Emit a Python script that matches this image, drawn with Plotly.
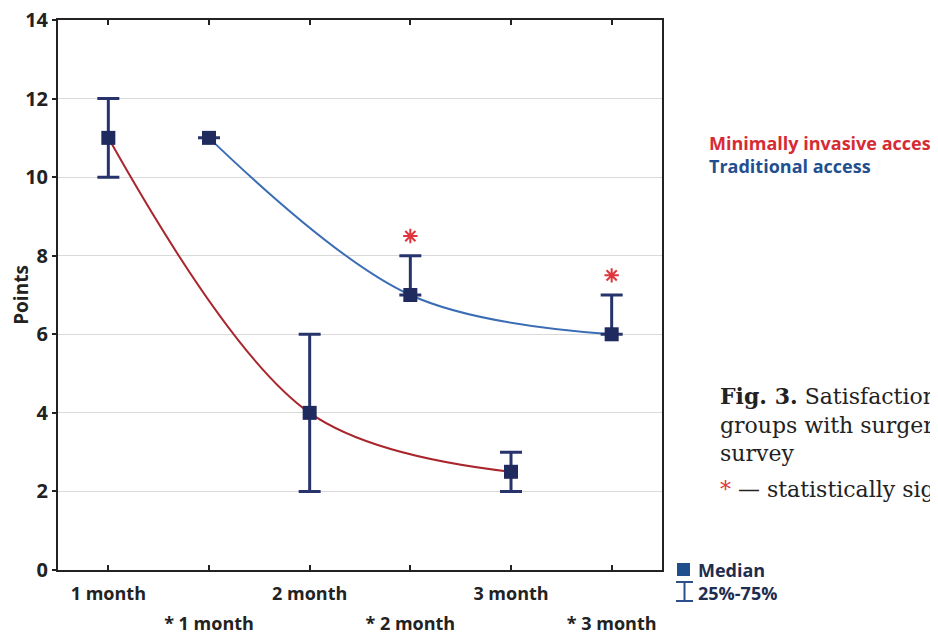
import plotly.graph_objects as go

# ---- data ----
categories = ["1 month", "* 1 month", "2 month", "* 2 month", "3 month", "* 3 month"]
row1_labels = ["1 month", "", "2 month", "", "3 month", ""]
row2_labels = ["* 1 month", "* 2 month", "* 3 month"]

mi_x = [0, 2, 4]            # Minimally invasive access positions (category index)
mi_median = [11, 4, 2.5]
mi_q1 = [10, 2, 2]
mi_q3 = [12, 6, 3]

tr_x = [1, 3, 5]            # Traditional access positions
tr_median = [11, 7, 6]
tr_q1 = [11, 7, 6]
tr_q3 = [11, 8, 7]

sig_x = [3, 5]
sig_y = [8.5, 7.5]

y_ticks = [0, 2, 4, 6, 8, 10, 12, 14]

# ---- styles ----
RED_LINE = "#a8262c"
BLUE_LINE = "#3b6db5"
NAVY = "#1f2a5e"
ERR = "#27346b"
SIG = "#e0353d"
FONT = "Open Sans"

fig = go.Figure()

fig.add_trace(go.Scatter(x=mi_x, y=mi_median, mode="lines",
                         line=dict(color=RED_LINE, width=2, shape="spline", smoothing=1.0),
                         hoverinfo="skip", showlegend=False))
fig.add_trace(go.Scatter(x=tr_x, y=tr_median, mode="lines",
                         line=dict(color=BLUE_LINE, width=2, shape="spline", smoothing=1.0),
                         hoverinfo="skip", showlegend=False))

for xs, med, q1, q3 in [(mi_x, mi_median, mi_q1, mi_q3), (tr_x, tr_median, tr_q1, tr_q3)]:
    fig.add_trace(go.Scatter(
        x=xs, y=med, mode="markers",
        marker=dict(symbol="square", size=14, color=NAVY, line=dict(width=0)),
        error_y=dict(type="data", symmetric=False,
                     array=[b - m for b, m in zip(q3, med)],
                     arrayminus=[m - a for a, m in zip(q1, med)],
                     color=ERR, thickness=3, width=11),
        showlegend=False))

fig.add_trace(go.Scatter(x=sig_x, y=sig_y, mode="markers", xaxis="x2", yaxis="y",
                         marker=dict(symbol="asterisk-open", size=12, color=SIG,
                                     line=dict(color=SIG, width=2)),
                         showlegend=False, hoverinfo="skip"))

axis_font = dict(family=FONT, size=18, color="#222222")
yaxis_font = dict(family=FONT, size=20, color="#222222")

# the page body adds an 8px margin, so the figure is sized to fit the window
fig.update_layout(
    width=930, height=626,
    margin=dict(l=50, r=276, t=12, b=64, autoexpand=False),
    paper_bgcolor="white", plot_bgcolor="white",
    font=dict(family=FONT, color="#222222"),
    xaxis=dict(range=[-0.5, 5.5], tickmode="array", tickvals=list(range(len(categories))),
               ticktext=["<b>%s</b>" % t if t else "" for t in row1_labels],
               ticks="inside", ticklen=5, tickwidth=1.5, tickcolor="#222",
               showline=True, linecolor="#222", linewidth=2, mirror="ticks",
               showgrid=False, zeroline=False, tickfont=axis_font,
               ticklabelstandoff=6),
    xaxis2=dict(range=[-0.5, 5.5], overlaying="x", side="bottom", tickmode="array",
                tickvals=[1, 3, 5], ticktext=["<b>%s</b>" % t for t in row2_labels],
                ticks="", showline=False, showgrid=False, zeroline=False,
                tickfont=axis_font, ticklabelstandoff=41),
    yaxis=dict(range=[0, 14], tickmode="array", tickvals=y_ticks,
               ticktext=["<b>%d</b>" % v for v in y_ticks],
               ticks="outside", ticklen=4, tickwidth=1.5, tickcolor="#222",
               showline=True, linecolor="#222", linewidth=2, mirror=True,
               showgrid=True, gridcolor="#d9d9d9", gridwidth=1, zeroline=False,
               tickfont=yaxis_font, ticklabeloverflow="allow",
               title=dict(text="<b>Points</b>", font=dict(family=FONT, size=19, color="#222"),
                          standoff=3)),
)

def px_x(p):
    return (p - 58) / 604.0

def px_y(p):
    return (570 - p) / 550.0

# series legend (coloured text)
fig.add_annotation(xref="paper", yref="paper", x=px_x(707), y=px_y(143), xanchor="left",
                   yanchor="middle", showarrow=False,
                   text="<b>Minimally invasive access</b>",
                   font=dict(family=FONT, size=18, color="#d62b35"))
fig.add_annotation(xref="paper", yref="paper", x=px_x(707), y=px_y(166), xanchor="left",
                   yanchor="middle", showarrow=False,
                   text="<b>Traditional access</b>",
                   font=dict(family=FONT, size=18, color="#1f4f8f"))

# symbol legend
fig.add_shape(type="rect", xref="paper", yref="paper",
              x0=px_x(677), x1=px_x(690), y0=px_y(576), y1=px_y(563),
              fillcolor="#1f4e8c", line=dict(width=0))
for (xa, ya, xb, yb) in [(684.5, 582, 684.5, 601), (676, 582, 693, 582), (676, 601, 693, 601)]:
    fig.add_shape(type="line", xref="paper", yref="paper",
                  x0=px_x(xa), y0=px_y(ya), x1=px_x(xb), y1=px_y(yb),
                  line=dict(color="#2a4f8a", width=2))
fig.add_annotation(xref="paper", yref="paper", x=px_x(696), y=px_y(570), xanchor="left",
                   yanchor="middle", showarrow=False, text="<b>Median</b>",
                   font=dict(family=FONT, size=18, color="#1f2d50"))
fig.add_annotation(xref="paper", yref="paper", x=px_x(696), y=px_y(593), xanchor="left",
                   yanchor="middle", showarrow=False, text="<b>25%-75%</b>",
                   font=dict(family=FONT, size=18, color="#1f2d50"))

# caption
fig.add_annotation(xref="paper", yref="paper", x=px_x(718), y=px_y(424), xanchor="left",
                   yanchor="middle", align="left", showarrow=False,
                   text="<b>Fig. 3.</b> Satisfaction with treatment results in<br>"
                        "groups with surgery according to the<br>survey",
                   font=dict(family="DejaVu Serif", size=22, color="#222222"))
fig.add_annotation(xref="paper", yref="paper", x=px_x(718), y=px_y(489), xanchor="left",
                   yanchor="middle", align="left", showarrow=False,
                   text="<span style='color:#e0353d'>*</span> — statistically significant differences",
                   font=dict(family="DejaVu Serif", size=22, color="#222222"))

fig.write_html("out.html")
